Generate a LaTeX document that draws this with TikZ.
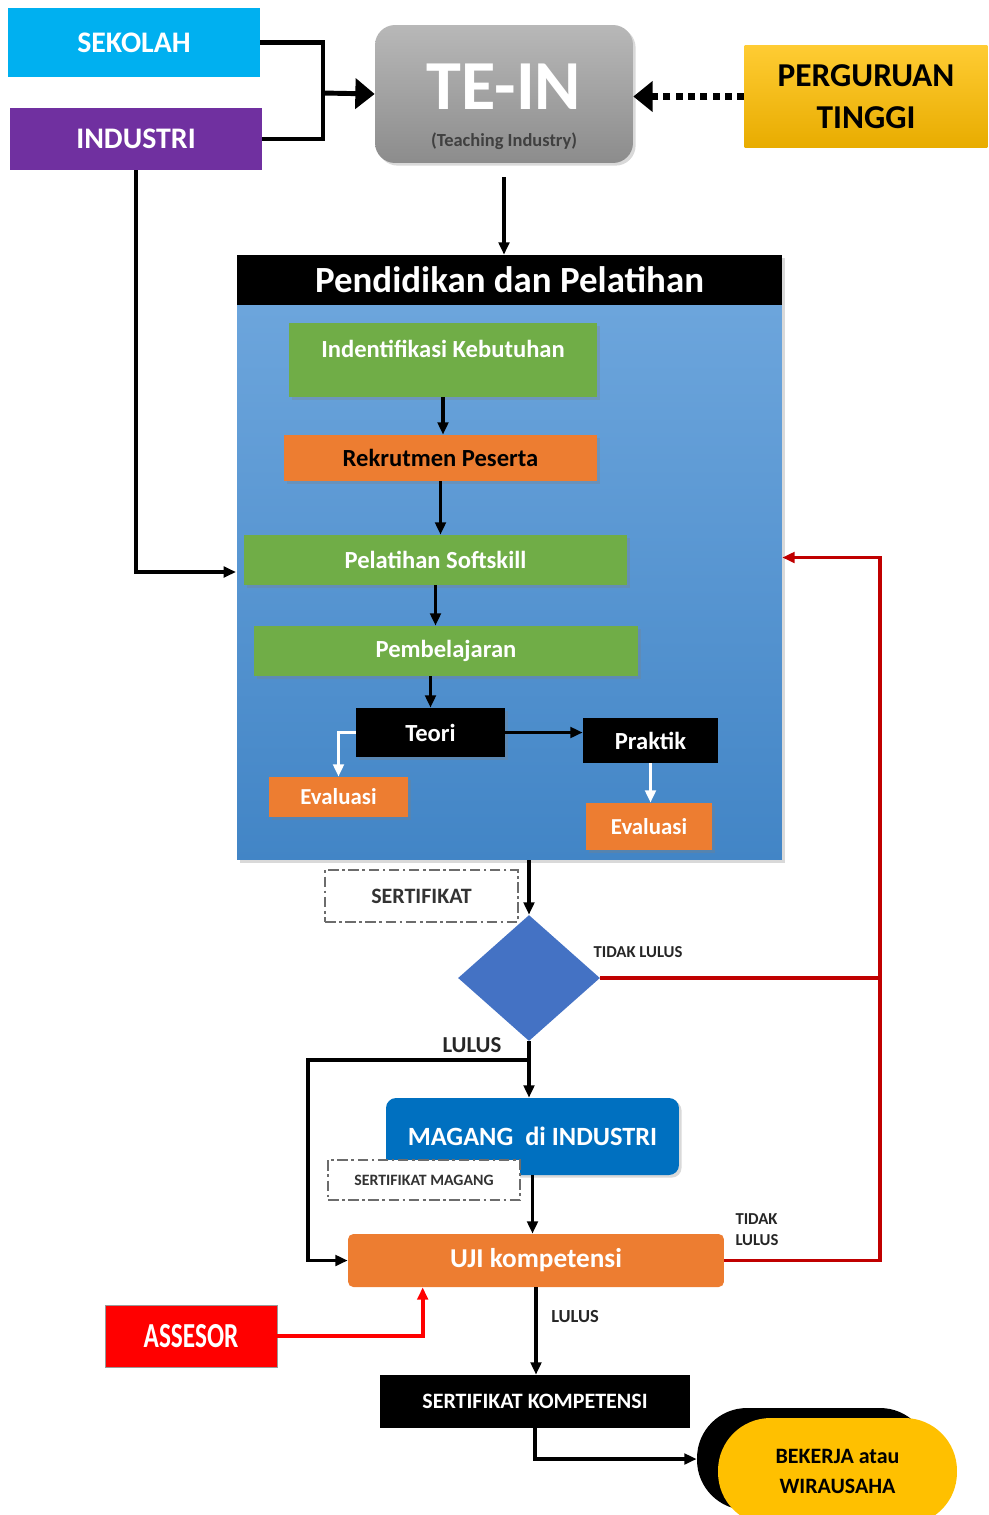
\documentclass[tikz,border=0pt]{standalone}
\usepackage{fontspec}
\setmainfont{Carlito}
\usetikzlibrary{arrows.meta, shapes.geometric, positioning, calc, shadows}
\definecolor{skyb}  {RGB}{  0,176,240}
\definecolor{ungu}  {RGB}{112, 48,160}
\definecolor{emasT} {RGB}{255,204, 51}
\definecolor{emasB} {RGB}{232,172,  0}
\definecolor{emas}  {RGB}{255,192,  0}
\definecolor{abuT}  {RGB}{184,184,184}
\definecolor{abuB}  {RGB}{140,140,140}
\definecolor{biruT} {RGB}{112,168,222}
\definecolor{biruB} {RGB}{ 66,133,198}
\definecolor{hijau} {RGB}{112,173, 71}
\definecolor{oren}  {RGB}{237,125, 49}
\definecolor{biruD} {RGB}{ 68,114,196}
\definecolor{biruM} {RGB}{  0,112,192}
\definecolor{merah} {RGB}{255,  0,  0}
\definecolor{merahG}{RGB}{192,  0,  0}
\tikzset{
  % soft shadow
  bayang/.style={drop shadow={opacity=0.3,shadow xshift=1.5pt,
                 shadow yshift=-1.5pt}},
  % plain box
  BX/.style={rectangle,inner sep=2pt,align=center,minimum width=#1},
  BX/.default=3cm,
  % green step box
  GB/.style={BX=#1,fill=hijau,text=white,minimum height=1cm,bayang,
             font=\bfseries\fontsize{14}{16}\selectfont},
  % orange step box
  OB/.style={BX=#1,fill=oren,bayang,font=\bfseries\fontsize{14}{16}\selectfont},
  % black box
  KB/.style={BX=#1,fill=black,text=white,
             font=\bfseries\fontsize{14}{16}\selectfont},
  % dash-dot certificate box
  SB/.style={BX=#1,draw=gray!85!black,fill=white,line width=1.1pt,
             dash pattern=on 6pt off 2pt on 1.5pt off 2pt,text=black!80},
  % small labels
  Lbl/.style={font=\bfseries\fontsize{9.5}{12}\selectfont,text=black!85,
              align=left},
  % arrows
  Arr/.style ={-{Triangle[length=7pt,width=6pt]},line width=1.8pt},
  WArr/.style={Arr,draw=white},
  RArr/.style={Arr,draw=merahG},
  RLine/.style={line width=1.8pt,draw=merahG},
  BArr/.style={-{Triangle[length=11pt,width=17pt]},line width=2.8pt},
  DArr/.style={-{Triangle[length=11pt,width=17pt]},line width=4pt,
               dash pattern=on 4pt off 3pt},
}
\begin{document}
\begin{tikzpicture}[x=0.02cm,y=-0.02cm]
  \useasboundingbox (0,0) rectangle (988,1515);
  % Top row
  \node[BX=5.04cm,fill=skyb,text=white,minimum height=1.38cm,
        font=\bfseries\fontsize{17}{20}\selectfont]
        at (134,42.5) (sekolah) {SEKOLAH};
  \node[BX=5.04cm,fill=ungu,text=white,minimum height=1.24cm,
        font=\bfseries\fontsize{17}{20}\selectfont]
        at (136,139) (industri) {INDUSTRI};
  \node[BX=5.16cm,rounded corners=0.4cm,top color=abuT,bottom color=abuB,
        minimum height=2.76cm,bayang]
        at (504,94) (tein)
        {{\color{white}\bfseries\fontsize{40}{40}\selectfont
          \rule{0pt}{40pt}TE-IN}\\[9pt]
         {\color{black!75}\bfseries\fontsize{10.5}{12}\selectfont
          (Teaching Industry)}};
  \node[BX=4.86cm,top color=emasT,bottom color=emasB,minimum height=2.06cm,
        font=\bfseries\fontsize{19}{24}\selectfont]
        at (866,96.5) (pt) {PERGURUAN\\TINGGI};
  \coordinate (gabung) at (323,93);
  \draw[line width=2.8pt] (sekolah.east) -| (gabung);
  \draw[line width=2.8pt] (industri.east) -| (gabung);
  \draw[BArr] (gabung) -- (tein.west);
  \draw[DArr] (pt.west) -- (pt.west -| tein.east);
  % Training block
  \node[BX=10.9cm,top color=biruT,bottom color=biruB,minimum height=12.1cm,
        bayang] at (509.5,557.5) (pendidikan) {};
  \node[BX=10.9cm,fill=black,text=white,minimum height=1cm,anchor=north,
        font=\bfseries\fontsize{21}{24}\selectfont]
        at (pendidikan.north) (judul) {Pendidikan dan Pelatihan};
  \draw[Arr,shorten <=8pt] (tein.south) -- (tein.south |- judul.north);
  \node[GB=6.16cm,minimum height=1.48cm,text depth=0.45cm]
        at (443,360) (identifikasi) {Indentifikasi Kebutuhan};
  \node[OB=6.26cm,minimum height=0.92cm]
        at (440.5,458) (rekrutmen) {Rekrutmen Peserta};
  \node[GB=7.66cm] at (435.5,560) (softskill) {Pelatihan Softskill};
  \node[GB=7.68cm] at (446,651) (pembelajaran) {Pembelajaran};
  \node[KB=2.98cm,minimum height=0.98cm,bayang]
        at (430.5,732.5) (teori) {Teori};
  \node[KB=2.7cm,minimum height=0.9cm] at (650.5,740.5) (praktik) {Praktik};
  \node[OB=2.78cm,text=white,minimum height=0.8cm,
        font=\bfseries\fontsize{13}{15}\selectfont]
        at (338.5,797) (evalA) {Evaluasi};
  \node[OB=2.52cm,text=white,minimum height=0.94cm,
        font=\bfseries\fontsize{13}{15}\selectfont]
        at (649,826.5) (evalB) {Evaluasi};
  \draw[Arr] (identifikasi.south) -- (identifikasi.south |- rekrutmen.north);
  \draw[Arr] (rekrutmen.south) -- (rekrutmen.south |- softskill.north);
  \draw[Arr] (softskill.south) -- (softskill.south |- pembelajaran.north);
  \draw[Arr] (teori.north |- pembelajaran.south) -- (teori.north);
  \draw[Arr] (teori.east) -- (teori.east -| praktik.west);
  \draw[WArr] (teori.west) -| (evalA.north);
  \draw[WArr] (praktik.south) -- (praktik.south |- evalB.north);
  \coordinate (masuk) at (236,572);
  \draw[Arr] (industri.south) |- (masuk);
  % Decision
  \node[SB=3.86cm,minimum height=1.04cm,
        font=\bfseries\fontsize{12.5}{14}\selectfont]
        at (421.5,896) (sertifikat) {SERTIFIKAT};
  \node[diamond,fill=biruD,inner sep=0pt,minimum width=2.84cm,
        minimum height=2.52cm] at (529,978) (cek) {};
  \draw[Arr] (cek.north |- pendidikan.south) -- (cek.north);
  \node[Lbl] at (638,952) (tl1) {TIDAK LULUS};
  \coordinate (kanan) at (880,557.5);
  \draw[RArr] (cek.east) -| (kanan) -- (pendidikan.east);
  \node[font=\bfseries\fontsize{13}{15}\selectfont,text=black!85]
        at (472,1045) (lulus1) {LULUS};
  % Internship and test
  \node[BX=5.86cm,fill=biruM,text=white,rounded corners=0.2cm,bayang,
        minimum height=1.54cm,font=\bfseries\fontsize{15}{18}\selectfont]
        at (532.5,1136.5) (magang) {MAGANG\ \ di INDUSTRI};
  \node[SB=3.84cm,minimum height=0.8cm,
        font=\bfseries\fontsize{9}{11}\selectfont]
        at (424,1180) (sertMagang) {SERTIFIKAT MAGANG};
  \draw[Arr] (cek.south) -- (cek.south |- magang.north);
  \node[BX=7.52cm,fill=oren,text=white,rounded corners=3pt,
        minimum height=1.06cm,font=\bfseries\fontsize{15.5}{18}\selectfont]
        at (536,1260.5) (uji) {UJI kompetensi};
  \draw[Arr] (magang.south) -- (magang.south |- uji.north);
  \coordinate (cabang) at (529,1060);
  \coordinate (kiri) at (308,1060);
  \draw[Arr] (cabang) -- (kiri) |- (uji.west);
  \node[Lbl] at (757,1230) (tl2) {TIDAK\\LULUS};
  \draw[RLine] (uji.east) -| (kanan);
  \node[BX=3.44cm,fill=merah,draw=black!40,text=white,minimum height=1.24cm,
        font=\bfseries\fontsize{20}{22}\selectfont]
        at (191,1336) (assesor) {\scalebox{0.72}[1]{ASSESOR}};
  \draw[Arr,draw=merah,line width=2.2pt]
        (assesor.east) -| ($(uji.south west)+(75,0)$);
  % Certificate and outcome
  \node[KB=6.2cm,minimum height=1.06cm,
        font=\bfseries\fontsize{12.5}{15}\selectfont]
        at (535,1401.5) (sertKomp) {SERTIFIKAT KOMPETENSI};
  \draw[Arr] (uji.south) -- (uji.south |- sertKomp.north);
  \node[Lbl,font=\bfseries\fontsize{10.5}{12}\selectfont]
        at (575,1317) (lulus2) {LULUS};
  \node[BX=4.66cm,fill=black,rounded corners=1cm,minimum height=2.04cm]
        at (813.5,1459) (kerjaBg) {};
  \node[BX=4.78cm,fill=emas,rounded corners=1.05cm,minimum height=2.14cm,
        font=\bfseries\fontsize{12.5}{17}\selectfont]
        at (837.5,1471.5) (kerja) {BEKERJA atau\\WIRAUSAHA};
  \draw[Arr] (sertKomp.south) |- (kerjaBg.west);
\end{tikzpicture}
\end{document}
